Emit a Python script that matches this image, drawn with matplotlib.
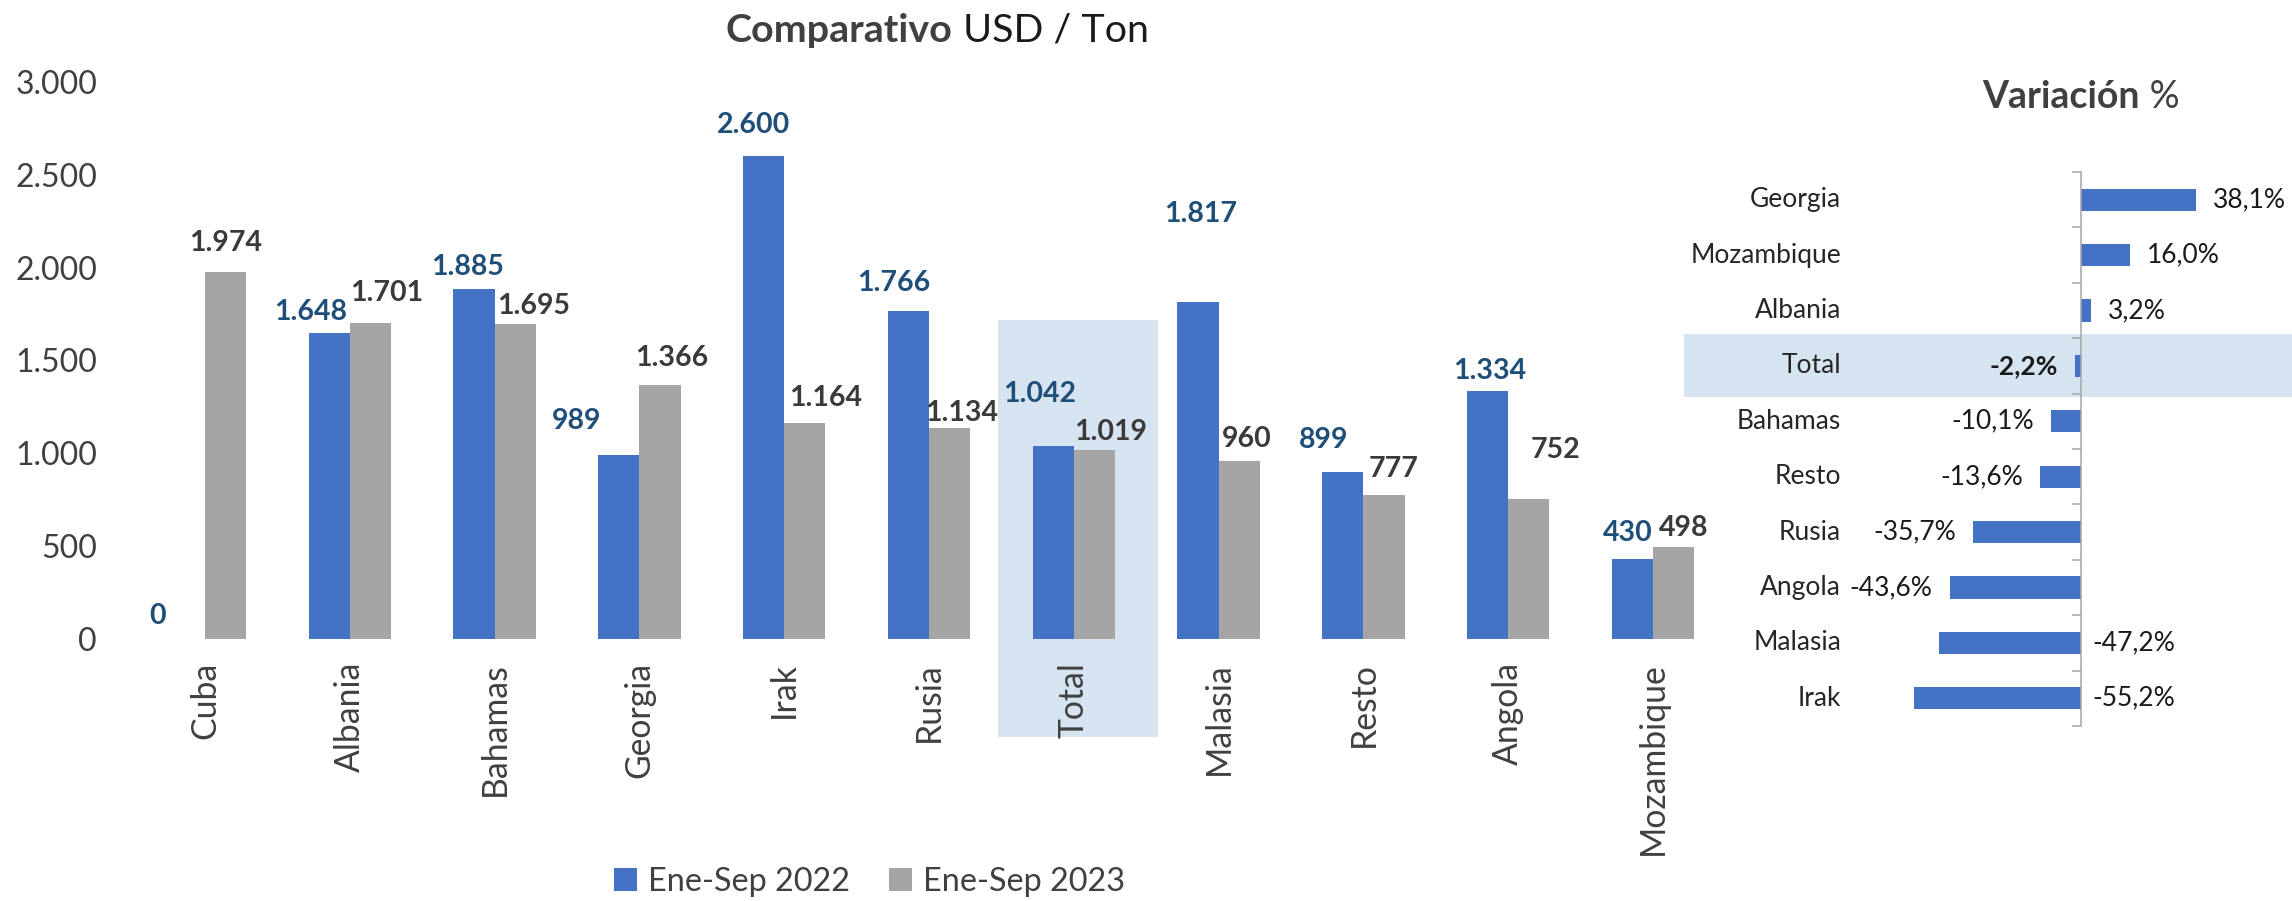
import matplotlib.pyplot as plt
from matplotlib.patches import Rectangle
from matplotlib.transforms import blended_transform_factory
import numpy as np

categorias = ["Cuba", "Albania", "Bahamas", "Georgia", "Irak", "Rusia", "Total",
              "Malasia", "Resto", "Angola", "Mozambique"]
usd_2022 = [0, 1648, 1885, 989, 2600, 1766, 1042, 1817, 899, 1334, 430]
usd_2023 = [1974, 1701, 1695, 1366, 1164, 1134, 1019, 960, 777, 752, 498]
y_ticks = [0, 500, 1000, 1500, 2000, 2500, 3000]

var_paises = ["Georgia", "Mozambique", "Albania", "Total", "Bahamas", "Resto",
              "Rusia", "Angola", "Malasia", "Irak"]
var_pct = [38.1, 16.0, 3.2, -2.2, -10.1, -13.6, -35.7, -43.6, -47.2, -55.2]

# label nudges in pixels (dx, height of label centre above bar top), as placed in the original
off_2022 = [(-27, 25), (-19, 23), (-6, 24), (-42, 36), (-10, 33), (-15, 30),
            (-14, 54), (3, 90), (-19, 34), (2, 22), (-5, 28)]
off_2023 = [(0, 31), (16, 32), (18, 20), (12, 29), (21, 27), (12, 17),
            (16, 20), (8, 24), (10, 28), (27, 51), (10, 21)]

AZUL = "#4472C4"
GRIS = "#A5A5A5"
RESALTE = "#D6E3F0"
TXT = "#404040"
FONT = "Lato"

plt.rcParams['font.family'] = [FONT, 'DejaVu Sans']

fig = plt.figure(figsize=(22.92, 9.01), dpi=100)
W, H = 2292, 901


def fmt_miles(v):
    return f"{v:,.0f}".replace(",", ".")


# ---- left chart: USD / Ton ----
ax = fig.add_axes([132.6 / W, (H - 639) / H, 1592.8 / W, (639 - 82) / H])
ax.patch.set_alpha(0)
x = np.arange(len(categorias))
w = 0.284
ax.bar(x - w / 2, usd_2022, w, color=AZUL, label="Ene-Sep 2022", zorder=2)
ax.bar(x + w / 2, usd_2023, w, color=GRIS, label="Ene-Sep 2023", zorder=2)

it = categorias.index("Total")
ax.add_patch(Rectangle((it - 0.523, -528), 1.105, 1720 + 528, color=RESALTE,
                       clip_on=False, zorder=0, lw=0))

ax.set_xlim(-0.5, len(categorias) - 0.5)
ax.set_ylim(0, 3000)
ax.set_yticks(y_ticks)
ax.set_yticklabels([fmt_miles(v) for v in y_ticks], fontsize=23, color=TXT)
ax.set_xticks(x)
ax.set_xticklabels(categorias, rotation=90, fontsize=24.3, color=TXT)
ax.tick_params(axis='y', length=0, pad=25.6)
ax.tick_params(axis='x', length=0, pad=16.5)
for s in ax.spines.values():
    s.set_visible(False)

px = 0.72
for i, v in enumerate(usd_2022):
    dx, up = off_2022[i]
    ax.annotate(fmt_miles(v), (x[i] - w / 2, v), xytext=(dx * px, (up - 10) * px),
                textcoords='offset points', ha='center', va='baseline',
                fontsize=20.5, fontweight='bold', color="#1F4E79")
for i, v in enumerate(usd_2023):
    dx, up = off_2023[i]
    ax.annotate(fmt_miles(v), (x[i] + w / 2, v), xytext=(dx * px, (up - 10) * px),
                textcoords='offset points', ha='center', va='baseline',
                fontsize=20.5, fontweight='bold', color="#3A3A3A")

leg = fig.legend(loc='center', bbox_to_anchor=(0.3795, 0.021), ncol=2, frameon=False,
                 fontsize=23.3, handlelength=0.7, handleheight=0.7, handletextpad=0.35,
                 columnspacing=1.2, labelcolor=TXT)

# titles with bold + regular parts
t1 = fig.text(726 / W, 1 - 41.5 / H, "Comparativo", fontsize=28.4, fontweight='bold',
              color=TXT, ha='left', va='baseline')
t2 = fig.text(1982 / W, 1 - 108 / H, "Variación", fontsize=27, fontweight='bold',
              color=TXT, ha='left', va='baseline')
fig.canvas.draw()
r = fig.canvas.get_renderer()
for t, rest, col in [(t1, " USD / Ton", "#1A1A1A"), (t2, " %", TXT)]:
    bb = t.get_window_extent(r)
    fig.text(bb.x1 / W, t.get_position()[1], rest, fontsize=t.get_fontsize(), color=col,
             ha='left', va='baseline')

# ---- right chart: Variación % ----
ax2 = fig.add_axes([1900 / W, (H - 726) / H, 317.1 / W, (726 - 172) / H])
ax2.patch.set_alpha(0)
yy = np.arange(len(var_paises))
ax2.barh(yy, var_pct, height=0.4, color=AZUL, zorder=2)
ax2.set_xlim(-60, 45)
ax2.set_ylim(len(var_paises) - 0.5, -0.5)

jt = var_paises.index("Total")
tr = blended_transform_factory(ax2.transAxes, ax2.transData)
ax2.add_patch(Rectangle((-0.681, jt - 0.57), 2.0, 1.14, transform=tr, color=RESALTE,
                        clip_on=False, zorder=0, lw=0))

for s in ["top", "right", "bottom"]:
    ax2.spines[s].set_visible(False)
ax2.spines['left'].set_position(('data', 0))
ax2.spines['left'].set_color("#A6A6A6")
ax2.spines['left'].set_linewidth(1.1)
ax2.set_xticks([])
ax2.set_yticks(np.arange(-0.5, len(var_paises)))
ax2.set_yticklabels([])
ax2.tick_params(axis='y', length=6.8, width=1.1, color="#A6A6A6")

for j, (nom, v) in enumerate(zip(var_paises, var_pct)):
    bold = nom == "Total"
    ax2.text(-0.186, j, nom, transform=tr, ha='right', va='center', fontsize=19,
             color="#262626", clip_on=False)
    lab = f"{v:.1f}".replace(".", ",") + "%"
    if v >= 0:
        xo, ha, xv = 17, 'left', v
    elif nom in ("Malasia", "Irak"):
        xo, ha, xv = 11, 'left', 0
    else:
        xo, ha, xv = -17, 'right', v
    ax2.annotate(lab, (xv, j), xytext=(xo * px, 0), textcoords='offset points',
                 ha=ha, va='center', fontsize=19, color="#1A1A1A",
                 fontweight='bold' if bold else 'normal', annotation_clip=False)

fig.savefig("out.png", dpi=100)
